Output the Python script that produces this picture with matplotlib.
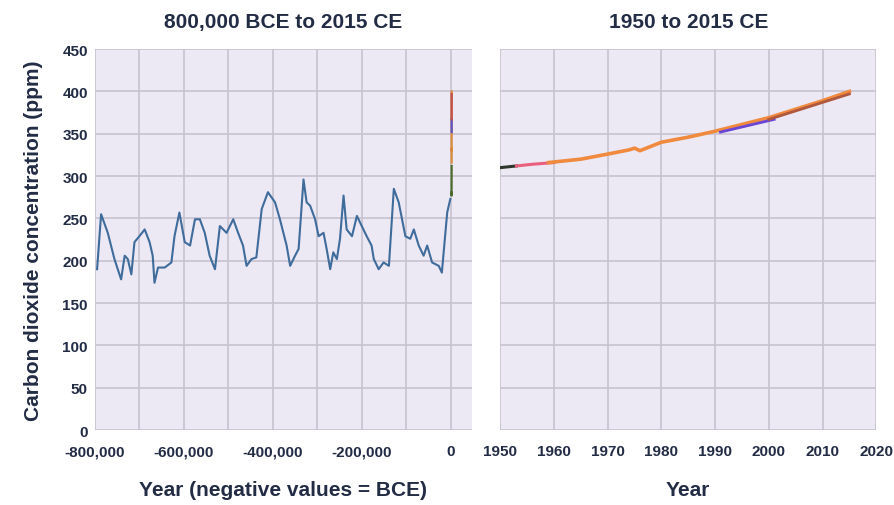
import matplotlib.pyplot as plt
from matplotlib.ticker import FuncFormatter

# ice core record (year, ppm)
ice_year = [-795000, -786000, -771000, -756000, -741000, -733000, -726000, -718000,
            -711000, -700000, -688000, -677000, -670000, -666000, -658000, -643000,
            -628000, -621000, -610000, -598000, -586000, -575000, -564000, -553000,
            -542000, -530000, -519000, -504000, -489000, -478000, -467000, -459000,
            -448000, -437000, -425000, -411000, -395000, -384000, -369000, -361000,
            -350000, -342000, -331000, -324000, -316000, -305000, -297000, -286000,
            -279000, -271000, -264000, -256000, -249000, -241000, -234000, -222000,
            -211000, -200000, -189000, -178000, -173000, -162000, -151000, -139000,
            -128000, -117000, -102000, -91000, -83000, -72000, -61000, -53000,
            -42000, -27000, -20000, -8000, -1000]
ice_ppm = [190, 255, 233, 202, 178, 206, 202, 184,
           222, 229, 237, 222, 206, 174, 192, 192,
           198, 229, 257, 222, 218, 249, 249, 233,
           206, 190, 241, 233, 249, 233, 218, 194,
           202, 204, 261, 281, 269, 249, 218, 194,
           206, 214, 296, 269, 265, 249, 229, 233,
           214, 190, 210, 202, 226, 277, 237, 229,
           253, 241, 229, 218, 202, 190, 198, 194,
           285, 269, 229, 226, 237, 218, 206, 218,
           198, 194, 186, 257, 273]

# recent records
law_year = [1000, 1500, 1750, 1800, 1850, 1900, 1930, 1950, 1953]
law_ppm = [280, 281, 277, 283, 285, 296, 307, 310, 312]

siple_year = [1953, 1956, 1960]
siple_ppm = [312, 314, 316]

mlo_year = [1959, 1965, 1970, 1974, 1975, 1976, 1978, 1980, 1985, 1990, 1995, 2000, 2005, 2010, 2015]
mlo_ppm = [316, 320, 326, 331, 333, 330, 335, 340, 346, 353, 361, 369, 379, 389, 400]

grim_year = [1991, 1995, 2001]
grim_ppm = [352, 358, 367]

other_year = [2000, 2005, 2010, 2015]
other_ppm = [367, 377, 387, 397]

plt.rcParams['font.family'] = ['Liberation Sans', 'DejaVu Sans']
txt = '#232c45'
bg = '#ece9f4'
grid = '#c6c2cf'

fig = plt.figure(figsize=(8.95, 5.06), dpi=100)
ax1 = fig.add_axes([0.106, 0.148, 0.421, 0.753])
ax2 = fig.add_axes([0.559, 0.148, 0.420, 0.753])

for ax in (ax1, ax2):
    ax.set_facecolor(bg)
    for s in ax.spines.values():
        s.set_visible(False)
    ax.set_ylim(0, 450)
    ax.set_yticks(range(0, 451, 50))
    ax.grid(True, color=grid, lw=1.2)
    ax.set_axisbelow(True)
    ax.tick_params(length=0, labelsize=11, labelcolor=txt)
    ax.tick_params(axis='x', pad=10)
    ax.tick_params(axis='y', pad=5)

# left panel
ax1.plot(ice_year, ice_ppm, color='#3f6c9b', lw=1.5)
ax1.plot(law_year, law_ppm, color='#4d6b2c', lw=1.6)
ax1.plot(mlo_year, mlo_ppm, color='#d98a3a', lw=1.6)
ax1.plot(grim_year, grim_ppm, color='#5b55c8', lw=1.6)
ax1.plot(other_year, other_ppm, color='#c0504a', lw=1.6)
ax1.set_xlim(-800000, 47000)
ax1.set_xticks(range(-800000, 1, 100000))
ax1.xaxis.set_major_formatter(FuncFormatter(
    lambda v, p: '' if int(v) % 200000 else f'{int(v):,}'))
ax1.set_title('800,000 BCE to 2015 CE', fontsize=15, fontweight='bold', color=txt, pad=16)
ax1.set_xlabel('Year (negative values = BCE)', fontsize=15, fontweight='bold', color=txt, labelpad=16)
ax1.set_ylabel('Carbon dioxide concentration (ppm)', fontsize=15, fontweight='bold', color=txt, labelpad=14)

# right panel
ax2.plot(law_year, law_ppm, color='#2e352c', lw=2.2)
ax2.plot(siple_year, siple_ppm, color='#ea5f7c', lw=2.2)
ax2.plot(mlo_year, mlo_ppm, color='#f08a3e', lw=2.6)
ax2.plot(grim_year, grim_ppm, color='#6a46d6', lw=2.0)
ax2.plot(other_year, other_ppm, color='#b0583e', lw=2.0)
ax2.set_xlim(1950, 2020)
ax2.set_xticks(range(1950, 2021, 10))
ax2.tick_params(axis='y', labelleft=False)
ax2.set_title('1950 to 2015 CE', fontsize=15, fontweight='bold', color=txt, pad=16)
ax2.set_xlabel('Year', fontsize=15, fontweight='bold', color=txt, labelpad=16)

for ax in (ax1, ax2):
    for lab in ax.get_xticklabels() + ax.get_yticklabels():
        lab.set_fontweight('bold')

fig.savefig('out.png', dpi=100, facecolor='white')
